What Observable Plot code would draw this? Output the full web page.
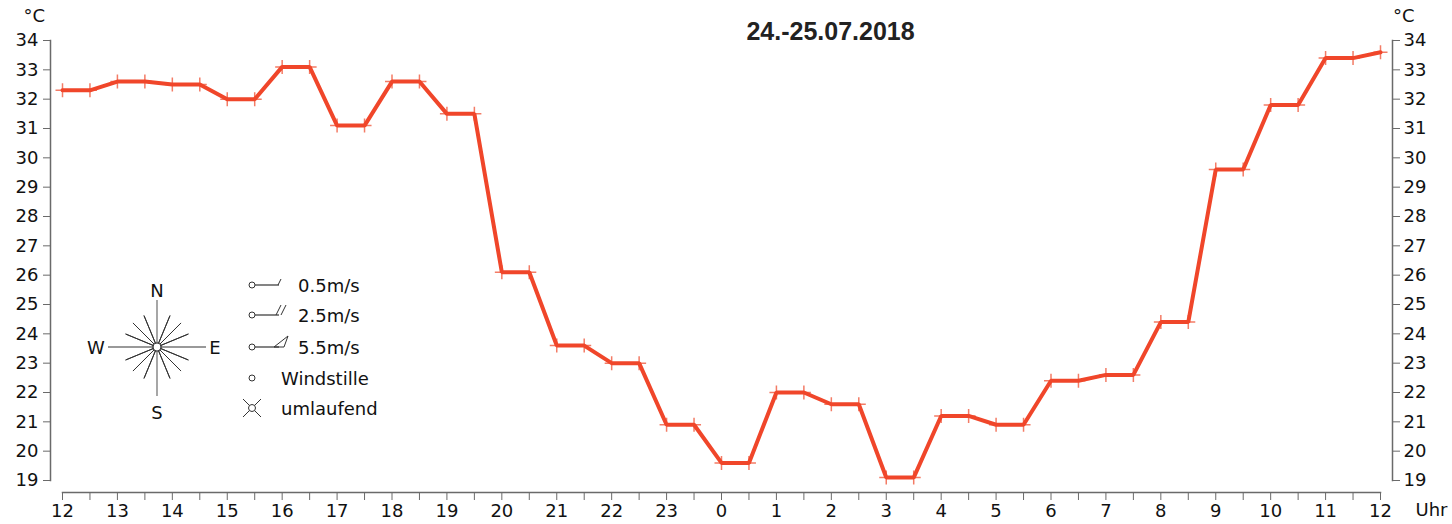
<!DOCTYPE html>
<html>
<head>
<meta charset="utf-8">
<script src="https://cdn.jsdelivr.net/npm/d3@7"></script>
<script src="https://cdn.jsdelivr.net/npm/@observablehq/plot@0.6"></script>
<style>
  html, body { margin: 0; padding: 0; background: #fff; }
</style>
</head>
<body>
<div id="chart"></div>
<script>
// --- data (hours counted from 12:00 on 24.07; 24 = 0 Uhr on 25.07) ---
const times = [12, 12.5, 13, 13.5, 14, 14.5, 15, 15.5, 16, 16.5, 17, 17.5, 18, 18.5, 19, 19.5,
  20, 20.5, 21, 21.5, 22, 22.5, 23, 23.5, 24, 24.5, 25, 25.5, 26, 26.5, 27, 27.5,
  28, 28.5, 29, 29.5, 30, 30.5, 31, 31.5, 32, 32.5, 33, 33.5, 34, 34.5, 35, 35.5, 36];
const temps = [32.3, 32.3, 32.6, 32.6, 32.5, 32.5, 32.0, 32.0, 33.1, 33.1, 31.1, 31.1, 32.6, 32.6, 31.5, 31.5,
  26.1, 26.1, 23.6, 23.6, 23.0, 23.0, 20.9, 20.9, 19.6, 19.6, 22.0, 22.0, 21.6, 21.6, 19.1, 19.1,
  21.2, 21.2, 20.9, 20.9, 22.4, 22.4, 22.6, 22.6, 24.4, 24.4, 29.6, 29.6, 31.8, 31.8, 33.4, 33.4, 33.6];
const hourTicks = [12, 13, 14, 15, 16, 17, 18, 19, 20, 21, 22, 23, 24, 25, 26, 27, 28, 29, 30, 31, 32, 33, 34, 35, 36];
const halfTicks = [12, 12.5, 13, 13.5, 14, 14.5, 15, 15.5, 16, 16.5, 17, 17.5, 18, 18.5, 19, 19.5, 20, 20.5,
  21, 21.5, 22, 22.5, 23, 23.5, 24, 24.5, 25, 25.5, 26, 26.5, 27, 27.5, 28, 28.5, 29, 29.5, 30, 30.5,
  31, 31.5, 32, 32.5, 33, 33.5, 34, 34.5, 35, 35.5, 36];
const tempTicks = [19, 20, 21, 22, 23, 24, 25, 26, 27, 28, 29, 30, 31, 32, 33, 34];
const title = "24.-25.07.2018";
const unitY = "°C";
const unitX = "Uhr";
const windLegend = ["0.5m/s", "2.5m/s", "5.5m/s", "Windstille", "umlaufend"];

const data = times.map((t, i) => ({t, v: temps[i]}));

const plusSymbol = {
  draw(ctx, size) {
    const r = Math.sqrt(size / Math.PI);
    ctx.moveTo(-r, 0); ctx.lineTo(r, 0);
    ctx.moveTo(0, -r); ctx.lineTo(0, r);
  }
};

const lineColor = "#f0462a";
const axisColor = "#6a6a6a";

const plot = Plot.plot({
  width: 1452,
  height: 524,
  marginLeft: 50,
  marginRight: 60,
  marginTop: 40,
  marginBottom: 32,
  style: {fontFamily: "DejaVu Sans", fontSize: "18px", color: "#111", background: "#fff"},
  x: {domain: [12, 36], insetLeft: 12, insetRight: 12},
  y: {domain: [19, 34], insetBottom: 12},
  marks: [
    Plot.frame({anchor: "left", insetBottom: 12, stroke: axisColor, strokeWidth: 1.5}),
    Plot.frame({anchor: "right", insetBottom: 12, stroke: axisColor, strokeWidth: 1.5}),
    Plot.frame({anchor: "bottom", insetLeft: 12, insetRight: 12, stroke: axisColor, strokeWidth: 1.5}),
    Plot.axisY({anchor: "left", ticks: tempTicks, tickSize: 7, tickPadding: 5, stroke: axisColor, label: null, tickFormat: d => d}),
    Plot.axisY({anchor: "right", ticks: tempTicks, tickSize: 7, tickPadding: 4, stroke: axisColor, label: null, tickFormat: d => d}),
    Plot.axisX({anchor: "bottom", ticks: halfTicks, tickSize: 8, stroke: axisColor, label: null, tickFormat: () => ""}),
    Plot.axisX({anchor: "bottom", ticks: hourTicks, tickSize: 0, tickPadding: 12, label: null, tickFormat: d => String(d % 24)}),
    Plot.text([unitY], {frameAnchor: "top-left", dx: -27, dy: -24, lineAnchor: "middle", text: d => d, fill: "#111"}),
    Plot.text([unitY], {frameAnchor: "top-right", dx: 22, dy: -24, lineAnchor: "middle", text: d => d, fill: "#111"}),
    Plot.text([unitX], {frameAnchor: "bottom-right", dx: 23, dy: 18, lineAnchor: "middle", textAnchor: "start", text: d => d, fill: "#111"}),
    Plot.text([title], {frameAnchor: "top", dx: 109, dy: -9, lineAnchor: "middle", text: d => d, fontFamily: "Liberation Sans, Arial, sans-serif",
      fontWeight: "bold", fontSize: 25, fill: "#222"}),
    Plot.dot(data, {x: "t", y: "v", symbol: plusSymbol, r: 7, stroke: "#f37c66", strokeWidth: 1.5, fill: "none"}),
    Plot.line(data, {x: "t", y: "v", stroke: lineColor, strokeWidth: 4, strokeLinejoin: "miter", curve: "linear"})
  ]
});

document.getElementById("chart").appendChild(plot);

// --- wind legend (decorative key) ---
const svg = d3.select(plot);
const g = svg.append("g").attr("font-family", "DejaVu Sans").attr("font-size", 18).attr("fill", "#111").attr("text-anchor", "start");
const cx = 157, cy = 347;
// rays
for (let k = 0; k < 16; k++) {
  if (k % 4 === 0) continue;
  const a = k * Math.PI / 8;
  const len = 34;
  g.append("line")
    .attr("x1", cx - Math.sin(a) * len).attr("y1", cy - Math.cos(a) * len)
    .attr("x2", cx + Math.sin(a) * len).attr("y2", cy + Math.cos(a) * len)
    .attr("stroke", "#333").attr("stroke-width", 1);
}
g.append("line").attr("x1", 108).attr("y1", cy).attr("x2", 206).attr("y2", cy).attr("stroke", "#777").attr("stroke-width", 1.3);
g.append("line").attr("x1", cx).attr("y1", 300).attr("x2", cx).attr("y2", 396).attr("stroke", "#777").attr("stroke-width", 1.3);
g.append("circle").attr("cx", cx).attr("cy", cy).attr("r", 4).attr("fill", "#fff").attr("stroke", "#222").attr("stroke-width", 1.2);
[["N", cx, 290], ["S", cx, 412], ["W", 96, cy], ["E", 215, cy]].forEach(([t, x, y]) => {
  g.append("text").attr("x", x).attr("y", y).attr("text-anchor", "middle").attr("dominant-baseline", "central").text(t);
});

const rows = [285, 315, 347, 378, 408];
const stroke = "#333";
rows.forEach((y, i) => {
  if (i <= 2) {
    g.append("circle").attr("cx", 252).attr("cy", y).attr("r", 3).attr("fill", "#fff").attr("stroke", stroke);
    g.append("line").attr("x1", 255).attr("y1", y).attr("x2", 279).attr("y2", y).attr("stroke", stroke).attr("stroke-width", 1.2);
  }
  if (i === 0) {
    g.append("line").attr("x1", 278).attr("y1", y).attr("x2", 281).attr("y2", y - 6).attr("stroke", stroke);
  } else if (i === 1) {
    g.append("line").attr("x1", 276).attr("y1", y).attr("x2", 281).attr("y2", y - 10).attr("stroke", stroke);
    g.append("line").attr("x1", 281).attr("y1", y).attr("x2", 286).attr("y2", y - 10).attr("stroke", stroke);
  } else if (i === 2) {
    g.append("path").attr("d", `M274,${y} L288,${y - 11} L284,${y} Z`).attr("fill", "none").attr("stroke", stroke);
  } else if (i === 3) {
    g.append("circle").attr("cx", 252).attr("cy", y).attr("r", 3).attr("fill", "#fff").attr("stroke", stroke);
  } else if (i === 4) {
    g.append("line").attr("x1", 243).attr("y1", y - 9).attr("x2", 261).attr("y2", y + 9).attr("stroke", stroke);
    g.append("line").attr("x1", 243).attr("y1", y + 9).attr("x2", 261).attr("y2", y - 9).attr("stroke", stroke);
    g.append("circle").attr("cx", 252).attr("cy", y).attr("r", 3.5).attr("fill", "#fff").attr("stroke", stroke);
  }
  const tx = i <= 2 ? 298 : 281;
  g.append("text").attr("x", tx).attr("y", y).attr("text-anchor", "start").attr("dominant-baseline", "central").text(windLegend[i]);
});
</script>
</body>
</html>
